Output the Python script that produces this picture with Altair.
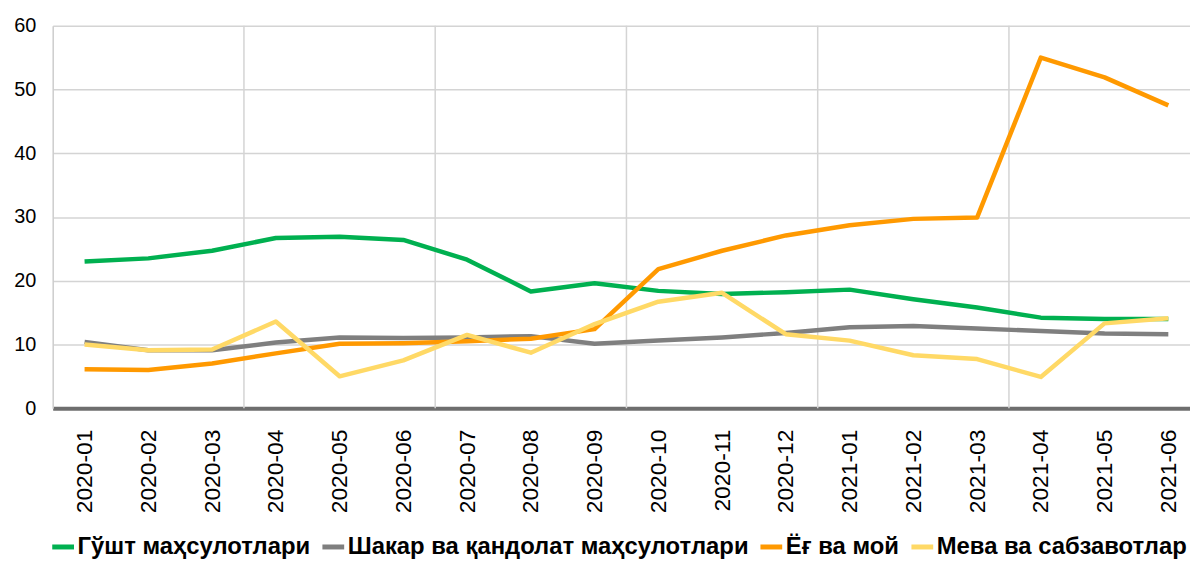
import altair as alt
import pandas as pd

months = ["2020-01", "2020-02", "2020-03", "2020-04", "2020-05", "2020-06",
          "2020-07", "2020-08", "2020-09", "2020-10", "2020-11", "2020-12",
          "2021-01", "2021-02", "2021-03", "2021-04", "2021-05", "2021-06"]

series_names = ["Гўшт маҳсулотлари", "Шакар ва қандолат маҳсулотлари",
                "Ёғ ва мой", "Мева ва сабзавотлар"]
colors = ["#00b050", "#7f7f7f", "#ff9900", "#ffd966"]

meat = [23.0, 23.5, 24.7, 26.7, 26.9, 26.4, 23.3, 18.3, 19.6, 18.4, 17.9, 18.2,
        18.6, 17.1, 15.8, 14.2, 14.0, 14.0]
sugar = [10.4, 9.1, 9.1, 10.3, 11.1, 11.0, 11.1, 11.3, 10.1, 10.6, 11.1, 11.8,
         12.7, 12.9, 12.5, 12.1, 11.7, 11.6]
oil = [6.1, 6.0, 7.0, 8.6, 10.1, 10.2, 10.5, 10.9, 12.4, 21.8, 24.7, 27.1,
       28.7, 29.7, 29.9, 55.0, 51.9, 47.5]
fruit = [10.0, 9.1, 9.2, 13.6, 5.0, 7.5, 11.5, 8.7, 13.2, 16.7, 18.1, 11.6,
         10.6, 8.3, 7.7, 4.9, 13.3, 14.1]

# quarter boundaries (between month indices) for vertical gridlines
grid_x = [2.5, 5.5, 8.5, 11.5, 14.5]
y_ticks = [0, 10, 20, 30, 40, 50, 60]

all_series = [meat, sugar, oil, fruit]

label_expr = "[" + ",".join(f"'{m}'" for m in months) + "][datum.value]"

AXIS_FONT = "Liberation Sans"
LEGEND_FONT = "'Liberation Sans Narrow', 'Arial Narrow', 'Liberation Sans'"


def x_enc():
    return alt.X(
        "x:Q",
        scale=alt.Scale(domain=[-0.5, 17.34], nice=False, zero=False),
        axis=alt.Axis(
            values=list(range(len(months))),
            labelExpr=label_expr,
            labelAngle=270,
            labelFontSize=23,
            labelFont=AXIS_FONT,
            labelColor="#000000",
            labelPadding=21,
            domainColor="#6e6e6e",
            domainWidth=4,
            ticks=False,
            grid=False,
            title=None,
        ),
    )


def y_enc():
    return alt.Y(
        "y:Q",
        scale=alt.Scale(domain=[0, 60], nice=False),
        axis=alt.Axis(
            values=y_ticks,
            labelFontSize=20,
            labelFont=AXIS_FONT,
            labelColor="#000000",
            labelPadding=17,
            domainColor="#cccccc",
            domainWidth=1.5,
            gridColor="#d4d4d4",
            gridWidth=1.5,
            ticks=False,
            title=None,
        ),
    )


grid = alt.Chart(pd.DataFrame({"x": grid_x})).mark_rule(
    color="#d4d4d4", strokeWidth=1.5
).encode(x=x_enc())

layers = [grid]
for name, vals in zip(series_names, all_series):
    df = pd.DataFrame({"x": list(range(len(months))), "y": vals, "series": name})
    layers.append(
        alt.Chart(df).mark_line(strokeWidth=4.5, strokeJoin="round").encode(
            x=x_enc(),
            y=y_enc(),
            color=alt.Color(
                "series:N",
                scale=alt.Scale(domain=series_names, range=colors),
                legend=alt.Legend(
                    title=None,
                    orient="none",
                    legendX=-3,
                    legendY=511,
                    direction="horizontal",
                    symbolType="stroke",
                    symbolStrokeWidth=5,
                    symbolSize=480,
                    labelFont=LEGEND_FONT,
                    labelFontSize=24,
                    labelFontWeight="bold",
                    labelColor="#000000",
                    labelOffset=1,
                    columnPadding=1,
                    labelLimit=600,
                ),
            ),
        )
    )

chart = alt.layer(*layers).properties(
    width=1145,
    height=385,
    autosize=alt.AutoSizeParams(type="none"),
    padding={"left": 45, "top": 16, "right": 0, "bottom": 152},
).configure_view(strokeWidth=0)

chart.save("out.html", embed_options={"renderer": "svg", "actions": False})
